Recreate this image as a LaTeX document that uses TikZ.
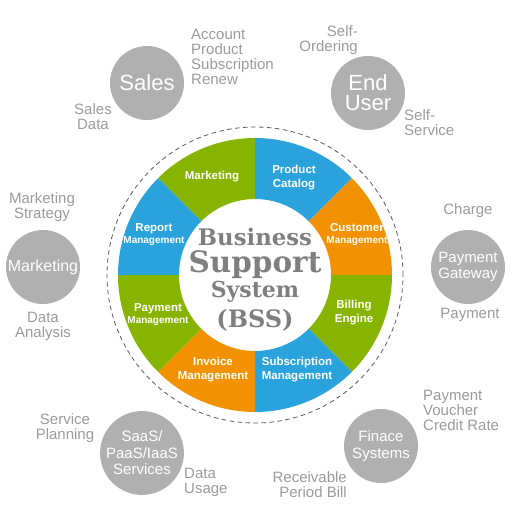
\documentclass[tikz,border=0pt]{standalone}
\usepackage{fontspec}
\setmainfont{Liberation Sans}
\newfontfamily\bssfont{DejaVu Serif}
\usepackage{xcolor}
\usepackage{tikz}
\usetikzlibrary{positioning}
\definecolor{greenc}{HTML}{86B400}
\definecolor{bluec}{HTML}{2AA3DD}
\definecolor{orangec}{HTML}{F39200}
\definecolor{satc}{HTML}{B0B0B0}
\definecolor{notec}{HTML}{9B9B9B}
\definecolor{centerc}{HTML}{7F7F7F}
\definecolor{ringc}{HTML}{5A5A5A}
\newcommand{\smallmgmtfont}{\bfseries\fontsize{10}{12}\selectfont}
\tikzset{
  satnode/.style={circle, fill=satc, text=white, minimum size=74pt, inner sep=0pt,
    align=center, font=\fontsize{15}{16.5}\selectfont},
  notenode/.style={text=notec, inner sep=0pt, font=\fontsize{15}{15}\selectfont},
  segnode/.style={text=white, inner sep=0pt, align=center,
    font=\bfseries\fontsize{11.5}{14}\selectfont},
  centernode/.style={text=centerc, inner sep=0pt, anchor=base},
  ringedge/.style={draw=ringc, dash pattern=on 4.5pt off 3.5pt, line width=0.8pt},
}

\begin{document}
\begin{tikzpicture}[x=1pt, y=1pt]
  \useasboundingbox (-255,-252) rectangle (256,275);
  % wheel
  \fill[greenc] (90:76) arc[start angle=90, end angle=135, radius=76] -- (135:137) arc[start angle=135, end angle=90, radius=137] -- cycle;
  \fill[bluec] (45:76) arc[start angle=45, end angle=90, radius=76] -- (90:137) arc[start angle=90, end angle=45, radius=137] -- cycle;
  \fill[orangec] (0:76) arc[start angle=0, end angle=45, radius=76] -- (45:137) arc[start angle=45, end angle=0, radius=137] -- cycle;
  \fill[greenc] (-45:76) arc[start angle=-45, end angle=0, radius=76] -- (0:137) arc[start angle=0, end angle=-45, radius=137] -- cycle;
  \fill[bluec] (-90:76) arc[start angle=-90, end angle=-45, radius=76] -- (-45:137) arc[start angle=-45, end angle=-90, radius=137] -- cycle;
  \fill[orangec] (-135:76) arc[start angle=-135, end angle=-90, radius=76] -- (-90:137) arc[start angle=-90, end angle=-135, radius=137] -- cycle;
  \fill[greenc] (180:76) arc[start angle=180, end angle=225, radius=76] -- (225:137) arc[start angle=225, end angle=180, radius=137] -- cycle;
  \fill[bluec] (135:76) arc[start angle=135, end angle=180, radius=76] -- (180:137) arc[start angle=180, end angle=135, radius=137] -- cycle;
  \draw[ringedge] (0,0) circle[radius=148];

  \node[segnode] (mkt) at (-43,98) {Marketing};
  \node[segnode] (cat) at (39,97) {Product\\Catalog};
  \node[segnode] (cust) at (102,40) {Customer\\[-2pt]{\smallmgmtfont Management}};
  \node[segnode] (bill) at (99,-38) {Billing\\Engine};
  \node[segnode] (subs) at (42,-95) {Subscription\\Management};
  \node[segnode] (inv) at (-42,-95) {Invoice\\Management};
  \node[segnode] (paym) at (-97,-40) {Payment\\[-2pt]{\smallmgmtfont Management}};
  \node[segnode] (rep) at (-101,40) {Report\\[-2pt]{\smallmgmtfont Management}};

  % centre title
  \node[centernode, font=\bssfont\bfseries\fontsize{22.8}{24}\selectfont] (bss1) at (0,29) {Business};
  \node[centernode, font=\bssfont\bfseries\fontsize{29.5}{30}\selectfont] (bss2) at (0,2) {Support};
  \node[centernode, font=\bssfont\bfseries\fontsize{22}{24}\selectfont] (bss3) at (0,-23) {System};
  \node[centernode, font=\bssfont\bfseries\fontsize{24}{24}\selectfont] (bss4) at (0,-52) {(BSS)};

  % satellites
  \node[satnode, font=\fontsize{22}{20}\selectfont] (sales) at (-108,192) {Sales};
  \node[satnode, font=\fontsize{22}{20}\selectfont] (user) at (113,182) {End\\User};
  \node[satnode, font=\fontsize{16}{17}\selectfont] (mkts) at (-212,8) {Marketing};
  \node[satnode] (pg) at (213,8) {Payment\\Gateway};
  \node[satnode] (saas) at (-113,-178) {SaaS/\\PaaS/IaaS\\Services};
  \node[satnode, font=\fontsize{15}{17}\selectfont] (fin) at (126,-171) {Finace\\Systems};

  % notes
  \node[notenode, anchor=west, align=left] (acct) at (-64,218) {Account\\Product\\Subscription\\Renew};
  \node[notenode, align=center] (sdata) at (-162,158) {Sales\\Data};
  \node[notenode, anchor=east, align=right] (sord) at (103,235) {Self-\\Ordering};
  \node[notenode, anchor=west, align=left] (sserv) at (149,152) {Self-\\Service};
  \node[notenode, align=center] (mstrat) at (-213,68) {Marketing\\Strategy};
  \node[notenode, align=center] (danal) at (-212,-51) {Data\\Analysis};
  \node[notenode] (chg) at (213,64) {Charge};
  \node[notenode] (pay) at (215,-40) {Payment};
  \node[notenode, align=center] (splan) at (-190,-153) {Service\\Planning};
  \node[notenode, anchor=west, align=left] (dusage) at (-71,-207) {Data\\Usage};
  \node[notenode, anchor=west, align=left] (pvc) at (168,-135) {Payment\\Voucher\\Credit Rate};
  \node[notenode, anchor=east, align=right] (rpb) at (92,-210) {Receivable\\Period Bill};
\end{tikzpicture}
\end{document}
